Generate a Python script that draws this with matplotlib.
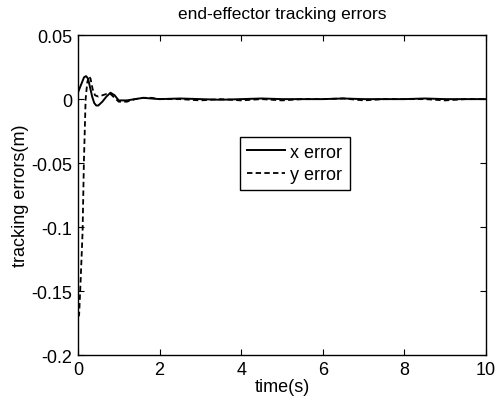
import matplotlib
matplotlib.use("Agg")
import matplotlib.pyplot as plt

plt.rcParams['font.family'] = ['Liberation Sans', 'DejaVu Sans']

# time points and error values
t_x = [0.0, 0.05, 0.1, 0.15, 0.2, 0.25, 0.3, 0.35, 0.4, 0.45, 0.5, 0.6, 0.7, 0.8,
       0.9, 1.0, 1.2, 1.4, 1.6, 1.8, 2.0, 2.5, 3.0, 3.5, 4.0, 4.5, 5.0, 5.5,
       6.0, 6.5, 7.0, 7.5, 8.0, 8.5, 9.0, 9.5, 10.0]
x_err = [0.005, 0.009, 0.013, 0.017, 0.018, 0.016, 0.009, 0.002, -0.003, -0.005,
         -0.005, -0.002, 0.002, 0.005, 0.003, -0.001, -0.001, 0.0, 0.001, 0.0005,
         0.0, 0.0005, 0.0, -0.0005, 0.0, 0.0005, 0.0, 0.0, 0.0, 0.0005, 0.0,
         0.0, 0.0, 0.0005, 0.0, 0.0, 0.0]

t_y = [0.0, 0.03, 0.07, 0.115, 0.147, 0.19, 0.23, 0.27, 0.31, 0.36, 0.42, 0.5,
       0.6, 0.7, 0.8, 0.9, 1.0, 1.2, 1.4, 1.6, 1.8, 2.0, 2.5, 3.0, 3.5, 4.0,
       4.5, 5.0, 5.5, 6.0, 6.5, 7.0, 7.5, 8.0, 8.5, 9.0, 9.5, 10.0]
y_err = [-0.17, -0.169, -0.14, -0.104, -0.05, 0.0, 0.013, 0.018, 0.016, 0.008,
         0.003, 0.002, 0.003, 0.004, 0.004, 0.001, -0.002, -0.002, 0.0, 0.001,
         0.001, 0.0, 0.0, -0.001, 0.0, -0.001, 0.0, -0.001, 0.0, 0.0, 0.0005,
         -0.001, 0.0, 0.0, 0.0, -0.001, 0.0, 0.0]

x_ticks = [0, 2, 4, 6, 8, 10]
y_ticks = [-0.2, -0.15, -0.1, -0.05, 0, 0.05]
y_tick_labels = ['-0.2', '-0.15', '-0.1', '-0.05', '0', '0.05']

fig = plt.figure(figsize=(4.96, 4.06), dpi=100)
ax = fig.add_axes([0.157, 0.123, 0.823, 0.788])
ax.plot(t_x, x_err, color='black', linestyle='-', linewidth=1.4, label='x error')
ax.plot(t_y, y_err, color='black', linestyle='--', linewidth=1.3, dashes=(3, 1.8), label='y error')
ax.set_xlim(0, 10)
ax.set_ylim(-0.2, 0.05)
ax.set_xticks(x_ticks)
ax.set_yticks(y_ticks)
ax.set_yticklabels(y_tick_labels)
ax.tick_params(direction='in', top=True, right=True, labelsize=13, length=4, pad=4)
ax.set_xlabel('time(s)', fontsize=13, labelpad=0)
ax.set_ylabel('tracking errors(m)', fontsize=13, labelpad=2)
ax.set_title('end-effector tracking errors', fontsize=12.5, pad=12)
for s in ax.spines.values():
    s.set_linewidth(1.0)
leg = ax.legend(loc='upper left', bbox_to_anchor=(0.397, 0.683), fontsize=13,
                frameon=True, fancybox=False, edgecolor='black', framealpha=1,
                handlelength=2.1, handletextpad=0.3, borderpad=0.4, labelspacing=0.3,
                borderaxespad=0)
leg.get_frame().set_linewidth(1.0)
fig.savefig('out.png', dpi=100)
